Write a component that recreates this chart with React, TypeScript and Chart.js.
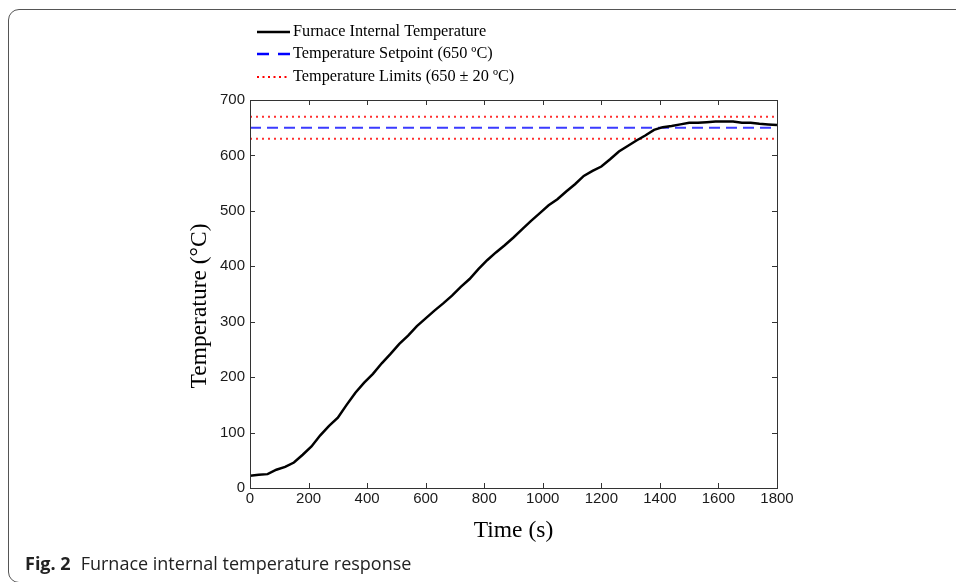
import { useEffect, useRef } from "react";
import { Chart, registerables } from "chart.js";

Chart.register(...registerables);

const timeS = [
  0, 30, 60, 90, 120, 150, 180, 210, 240, 270, 300, 330, 360, 390, 420, 450, 480, 510, 540, 570,
  600, 630, 660, 690, 720, 750, 780, 810, 840, 870, 900, 930, 960, 990, 1020, 1050, 1080, 1110,
  1140, 1170, 1200, 1230, 1260, 1290, 1320, 1350, 1380, 1410, 1440, 1470, 1500, 1530, 1560, 1590,
  1620, 1650, 1680, 1710, 1740, 1770, 1800,
];
const tempC = [
  22, 24, 25, 33, 38, 46, 60, 75, 95, 112, 127, 150, 172, 190, 206, 225, 242, 260, 275, 292,
  306, 320, 333, 347, 363, 377, 395, 411, 425, 438, 452, 467, 482, 496, 510, 521, 535, 548,
  563, 572, 580, 593, 607, 617, 627, 636, 646, 651, 653, 656, 659, 659, 660, 661,
  661, 661, 659, 659, 657, 656, 655,
];
const setpointC = 650;
const upperLimitC = 670;
const lowerLimitC = 630;
const xTicks = [0, 200, 400, 600, 800, 1000, 1200, 1400, 1600, 1800];
const yTicks = [0, 100, 200, 300, 400, 500, 600, 700];
const legendLabels = [
  "Furnace Internal Temperature",
  "Temperature Setpoint (650 ºC)",
  "Temperature Limits (650 ± 20 ºC)",
];
const xTitle = "Time (s)";
const yTitle = "Temperature (°C)";

const boxPlugin = {
  id: "matlabBox",
  afterDraw(chart: any) {
    const { ctx, chartArea } = chart;
    const { left, right, top, bottom } = chartArea;
    const xs = chart.scales.x;
    const ys = chart.scales.y;
    ctx.save();
    ctx.strokeStyle = "#333";
    ctx.lineWidth = 1;
    ctx.strokeRect(Math.round(left) + 0.5, Math.round(top) + 0.5, Math.round(right - left), Math.round(bottom - top));
    ctx.beginPath();
    const tl = 5;
    xTicks.forEach((v) => {
      const px = Math.round(xs.getPixelForValue(v)) + 0.5;
      ctx.moveTo(px, bottom);
      ctx.lineTo(px, bottom - tl);
      ctx.moveTo(px, top);
      ctx.lineTo(px, top + tl);
    });
    yTicks.forEach((v) => {
      const py = Math.round(ys.getPixelForValue(v)) + 0.5;
      ctx.moveTo(left, py);
      ctx.lineTo(left + tl, py);
      ctx.moveTo(right, py);
      ctx.lineTo(right - tl, py);
    });
    ctx.stroke();

    // y axis title
    ctx.save();
    ctx.translate(200, 306);
    ctx.rotate(-Math.PI / 2);
    ctx.font = "23.5px 'Liberation Serif'";
    ctx.fillStyle = "#000";
    ctx.textAlign = "center";
    ctx.textBaseline = "middle";
    ctx.fillText(yTitle, 0, 0);
    ctx.restore();

    // legend
    const rows = [32, 54, 77];
    const x0 = 257;
    const x1 = 290;
    ctx.font = "16.3px 'Liberation Serif'";
    ctx.textBaseline = "middle";
    ctx.textAlign = "left";
    ctx.fillStyle = "#000";
    rows.forEach((ry, i) => {
      ctx.beginPath();
      if (i === 0) {
        ctx.strokeStyle = "#000";
        ctx.lineWidth = 2.5;
        ctx.setLineDash([]);
      } else if (i === 1) {
        ctx.strokeStyle = "#0000ff";
        ctx.lineWidth = 2.5;
        ctx.setLineDash([12, 9]);
      } else {
        ctx.strokeStyle = "#ff0000";
        ctx.lineWidth = 2;
        ctx.setLineDash([2, 3.5]);
      }
      ctx.moveTo(x0, ry);
      ctx.lineTo(x1, ry);
      ctx.stroke();
      ctx.setLineDash([]);
      ctx.fillText(legendLabels[i], x1 + 3, ry);
    });
    ctx.restore();
  },
};

export default function App() {
  const canvasRef = useRef<HTMLCanvasElement | null>(null);

  useEffect(() => {
    if (!canvasRef.current) return;
    const line = (v: number) => [
      { x: 0, y: v },
      { x: 1800, y: v },
    ];
    const chart = new Chart(canvasRef.current, {
      type: "line",
      data: {
        datasets: [
          {
            label: legendLabels[0],
            data: timeS.map((t, i) => ({ x: t, y: tempC[i] })),
            borderColor: "#000",
            borderWidth: 2.5,
            pointRadius: 0,
            tension: 0,
          },
          {
            label: legendLabels[1],
            data: line(setpointC),
            borderColor: "#3b3bff",
            borderWidth: 2,
            borderDash: [11, 6],
            pointRadius: 0,
          },
          {
            label: legendLabels[2],
            data: line(upperLimitC),
            borderColor: "#ff3030",
            borderWidth: 2,
            borderDash: [2, 4],
            pointRadius: 0,
          },
          {
            label: legendLabels[2] + " low",
            data: line(lowerLimitC),
            borderColor: "#ff3030",
            borderWidth: 2,
            borderDash: [2, 4],
            pointRadius: 0,
          },
        ],
      },
      options: {
        responsive: false,
        animation: false,
        layout: { padding: { left: 0, top: 100, right: 179, bottom: 0 } },
        plugins: { legend: { display: false }, tooltip: { enabled: false } },
        scales: {
          x: {
            type: "linear",
            min: 0,
            max: 1800,
            afterBuildTicks: (s: any) => {
              s.ticks = xTicks.map((v) => ({ value: v }));
            },
            ticks: {
              font: { family: "'Liberation Sans'", size: 15 },
              color: "#1a1a1a",
              padding: 2,
              maxRotation: 0,
              autoSkip: false,
              callback: (v: any) => String(v),
            },
            grid: { display: false, drawTicks: false },
            border: { display: false },
            title: {
              display: true,
              text: xTitle,
              color: "#000",
              font: { family: "'Liberation Serif'", size: 23.5 },
              padding: { top: 0, bottom: 37 },
            },
            afterFit: (s: any) => {
              s.height = 94;
            },
          },
          y: {
            type: "linear",
            min: 0,
            max: 700,
            afterBuildTicks: (s: any) => {
              s.ticks = yTicks.map((v) => ({ value: v }));
            },
            ticks: {
              font: { family: "'Liberation Sans'", size: 15 },
              color: "#1a1a1a",
              padding: 5,
              autoSkip: false,
              callback: (v: any) => String(v),
            },
            grid: { display: false, drawTicks: false },
            border: { display: false },
            title: { display: false },
            afterFit: (s: any) => {
              s.width = 250;
            },
          },
        },
      },
      plugins: [boxPlugin],
    } as any);
    return () => chart.destroy();
  }, []);

  return (
    <div style={{ position: "fixed", left: 0, top: 0, width: 956, height: 582, overflow: "hidden", background: "#fff" }}>
      <div
        style={{
          position: "absolute",
          left: 8,
          top: 9,
          width: 1000,
          height: 574,
          border: "1.5px solid #555",
          borderRadius: 11,
          boxSizing: "border-box",
        }}
      />
      <canvas ref={canvasRef} width={956} height={582} style={{ position: "absolute", left: 0, top: 0, display: "block" }} />
      <div
        style={{
          position: "absolute",
          left: 25,
          top: 550,
          fontFamily: "'Open Sans', sans-serif",
          fontSize: 18,
          lineHeight: "26px",
          color: "#222",
          whiteSpace: "nowrap",
        }}
      >
        <b>Fig. 2</b>
        <span style={{ marginLeft: 10 }}>Furnace internal temperature response</span>
      </div>
    </div>
  );
}
